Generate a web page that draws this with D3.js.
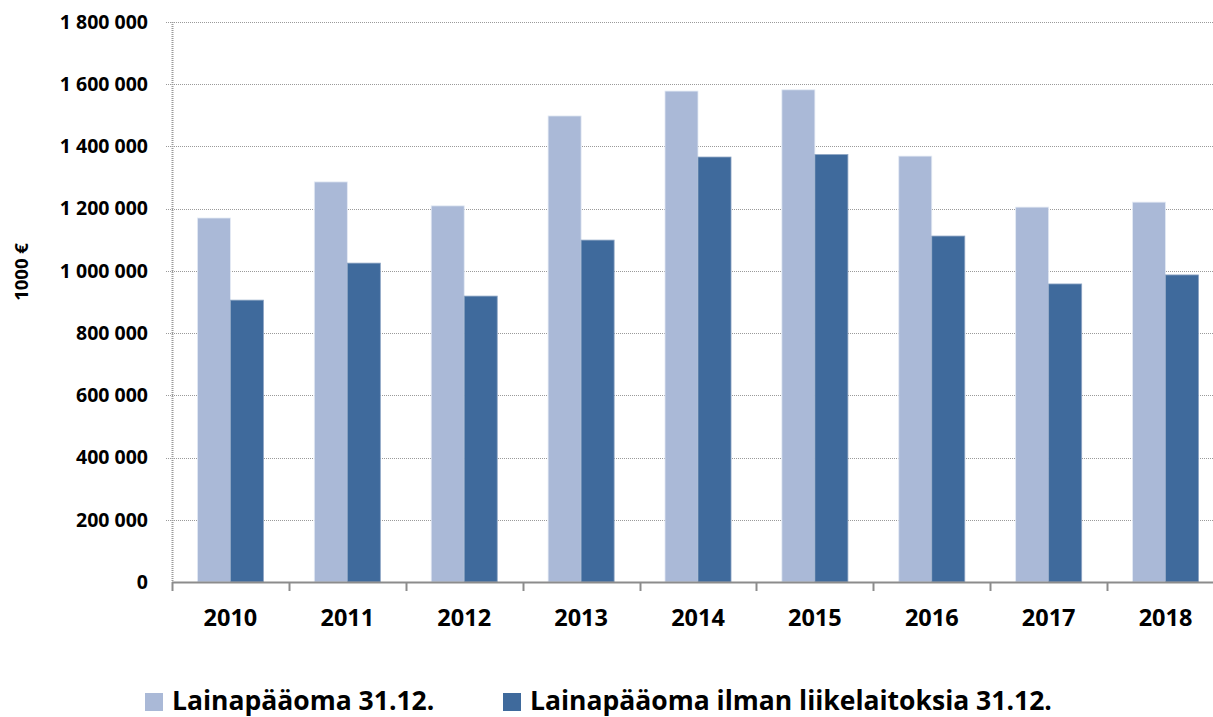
<!DOCTYPE html>
<html>
<head>
<meta charset="utf-8">
<script src="https://cdn.jsdelivr.net/npm/d3@7"></script>
<style>
  body { margin: 0; background: #fff; }
  svg { display: block; font-family: "Open Sans", "Liberation Sans", sans-serif; font-weight: 700; }
</style>
</head>
<body>
<div id="container-div"></div>
<script>
// data
var years = ["2010", "2011", "2012", "2013", "2014", "2015", "2016", "2017", "2018"];
var lainapaaoma = [1170000, 1286000, 1209000, 1498000, 1578000, 1582000, 1369000, 1205000, 1221000];
var ilmanLiikelaitoksia = [906000, 1025000, 919000, 1099000, 1366000, 1374000, 1112000, 958000, 987000];
var seriesNames = ["Lainapääoma 31.12.", "Lainapääoma ilman liikelaitoksia 31.12."];
var yTicks = [0, 200000, 400000, 600000, 800000, 1000000, 1200000, 1400000, 1600000, 1800000];

var colors = ["#aab9d7", "#3f6a9c"];

var W = 1213, H = 717;
var plotLeft = 172, plotRight = 1224, plotTop = 22, plotBottom = 582;

var viz = d3.select("#container-div").append("svg")
    .attr("width", W)
    .attr("height", H)
    .attr("id", "viz");

var x = d3.scaleBand().domain(years).range([plotLeft, plotRight]).paddingInner(0).paddingOuter(0);
var y = d3.scaleLinear().domain([0, 1800000]).range([plotBottom, plotTop]);
var inner = d3.scaleBand().domain([0, 1]).range([0, x.bandwidth() * 0.565]);
var offset = (x.bandwidth() - inner.range()[1]) / 2;

function fmt(v) {
    return d3.format(",")(v).replace(/,/g, " ");
}

// gridlines
viz.append("g").selectAll("line").data(yTicks.slice(1)).enter()
    .append("line")
    .attr("x1", plotLeft - 6)
    .attr("x2", plotRight)
    .attr("y1", d => Math.round(y(d)) + 0.5)
    .attr("y2", d => Math.round(y(d)) + 0.5)
    .attr("stroke", "#9a9a9a")
    .attr("stroke-width", 1)
    .attr("stroke-dasharray", "1,1");

// y axis (dotted line)
viz.append("line")
    .attr("x1", plotLeft + 0.5).attr("x2", plotLeft + 0.5)
    .attr("y1", plotTop).attr("y2", plotBottom)
    .attr("stroke", "#9a9a9a")
    .attr("stroke-width", 2)
    .attr("stroke-dasharray", "1,1");

// y tick labels
viz.append("g").selectAll("text").data(yTicks).enter()
    .append("text")
    .attr("x", 148)
    .attr("y", d => y(d))
    .attr("dy", "0.35em")
    .attr("text-anchor", "end")
    .attr("font-size", 19.5)
    .attr("fill", "#000")
    .text(fmt);

// bars
var groups = viz.selectAll("g.year").data(years).enter()
    .append("g")
    .attr("class", "year")
    .attr("transform", d => "translate(" + (x(d) + offset) + ",0)");

groups.append("rect")
    .attr("x", inner(0))
    .attr("width", inner.bandwidth())
    .attr("y", (d, i) => y(lainapaaoma[i]))
    .attr("height", (d, i) => plotBottom - y(lainapaaoma[i]))
    .attr("fill", colors[0])
    .attr("stroke", "#e4eaf4")
    .attr("stroke-width", 0.8);

groups.append("rect")
    .attr("x", inner(1))
    .attr("width", inner.bandwidth())
    .attr("y", (d, i) => y(ilmanLiikelaitoksia[i]))
    .attr("height", (d, i) => plotBottom - y(ilmanLiikelaitoksia[i]))
    .attr("fill", colors[1])
    .attr("stroke", "#8ea5c4")
    .attr("stroke-width", 0.8);

// x axis
viz.append("line")
    .attr("x1", plotLeft).attr("x2", plotRight)
    .attr("y1", plotBottom + 0.5).attr("y2", plotBottom + 0.5)
    .attr("stroke", "#8c8c8c")
    .attr("stroke-width", 2);

viz.append("g").selectAll("line").data(years).enter()
    .append("line")
    .attr("x1", d => Math.round(x(d)) + 0.5)
    .attr("x2", d => Math.round(x(d)) + 0.5)
    .attr("y1", plotBottom)
    .attr("y2", plotBottom + 9)
    .attr("stroke", "#8c8c8c")
    .attr("stroke-width", 2);

viz.append("g").selectAll("text").data(years).enter()
    .append("text")
    .attr("x", d => x(d) + x.bandwidth() / 2)
    .attr("y", 626)
    .attr("text-anchor", "middle")
    .attr("font-size", 23.5)
    .attr("fill", "#000")
    .text(d => d);

// y title
viz.append("text")
    .attr("transform", "translate(28,272) rotate(-90)")
    .attr("text-anchor", "middle")
    .attr("font-size", 18.5)
    .attr("fill", "#000")
    .text("1000 €");

// legend
var legendX = [145, 503];
var legend = viz.selectAll("g.legend").data(seriesNames).enter()
    .append("g")
    .attr("class", "legend")
    .attr("transform", (d, i) => "translate(" + legendX[i] + ",0)");

legend.append("rect")
    .attr("x", 0)
    .attr("y", 693)
    .attr("width", 18)
    .attr("height", 18)
    .attr("fill", (d, i) => colors[i]);

legend.append("text")
    .attr("x", 27)
    .attr("y", 710)
    .attr("font-size", 26.5)
    .attr("fill", "#000")
    .text(d => d);
</script>
</body>
</html>
